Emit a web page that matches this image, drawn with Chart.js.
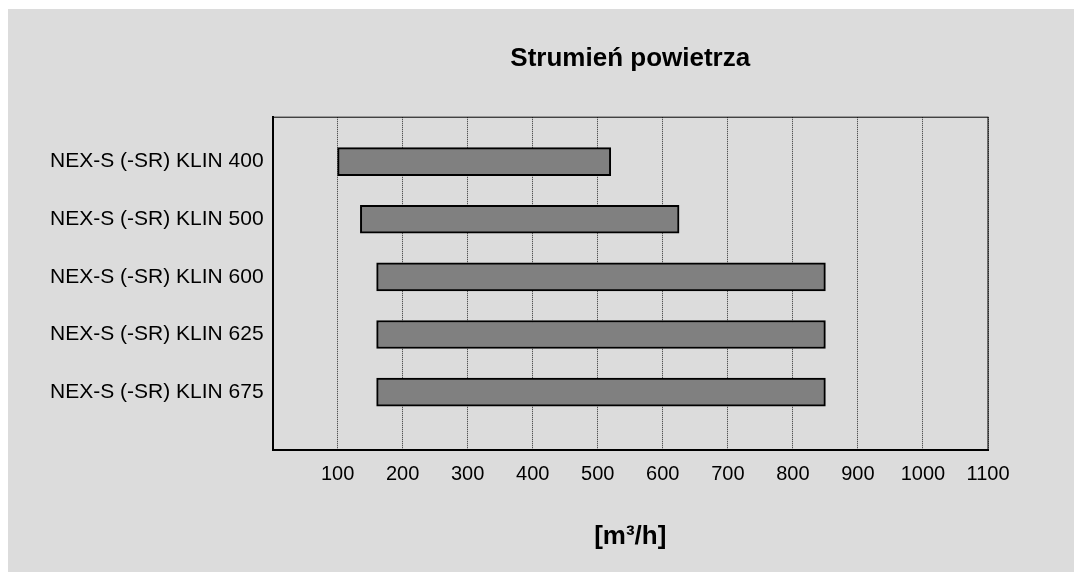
<!DOCTYPE html>
<html>
<head>
<meta charset="utf-8">
<script src="https://cdn.jsdelivr.net/npm/chart.js@4/dist/chart.umd.min.js"></script>
<style>
  body { margin: 9px 0 0 8px; background: #ffffff; }
  #myChart { background: #dcdcdc; display: block; }
</style>
</head>
<body>
<canvas id="myChart" width="1066" height="563"></canvas>
<script>
// chart data
var mylabel = ['NEX-S (-SR) KLIN 400', 'NEX-S (-SR) KLIN 500', 'NEX-S (-SR) KLIN 600', 'NEX-S (-SR) KLIN 625', 'NEX-S (-SR) KLIN 675'];
var flowMin = [100, 135, 160, 160, 160];
var flowMax = [520, 625, 850, 850, 850];
var xTicks = [100, 200, 300, 400, 500, 600, 700, 800, 900, 1000, 1100];

var fontName = "'Liberation Sans', Arial, sans-serif";

// box around the plot area
var frame = {
  id: 'frame',
  beforeDatasetsDraw: function (chart) {
    var a = chart.chartArea, c = chart.ctx;
    c.save();
    c.strokeStyle = '#000';
    c.lineWidth = 1;
    c.strokeRect(a.left, a.top, a.right - a.left, a.bottom - a.top);
    c.restore();
  }
};

var bars = mylabel.map(function (l, i) {
  return { x: [flowMin[i], flowMax[i]], y: i };
});

const ctx = document.getElementById('myChart');
new Chart(ctx, {
  type: 'bar',
  data: {
    datasets: [{
      data: bars,
      backgroundColor: '#808080',
      borderColor: '#000000',
      borderWidth: 2,
      borderSkipped: false,
      barThickness: 28
    }]
  },
  plugins: [frame],
  options: {
    indexAxis: 'y',
    responsive: false,
    animation: false,
    layout: { padding: { left: 33, right: 86, top: 20, bottom: 10 } },
    plugins: {
      legend: { display: false },
      tooltip: { enabled: false },
      title: {
        display: true,
        fullSize: false,
        text: 'Strumień powietrza',
        color: '#000',
        font: { family: fontName, size: 26, weight: 'bold' },
        padding: { top: 14, bottom: 43 }
      }
    },
    scales: {
      x: {
        type: 'linear',
        min: 0,
        max: 1100,
        afterBuildTicks: function (s) {
          s.ticks = [0].concat(xTicks).map(function (v) { return { value: v }; });
        },
        ticks: {
          color: '#000',
          padding: 13,
          maxRotation: 0,
          font: { family: fontName, size: 20 },
          callback: function (v) { return v === 0 ? '' : v; }
        },
        grid: {
          color: '#333',
          lineWidth: 1,
          drawTicks: false
        },
        border: { color: '#000', width: 2, dash: [1, 1] },
        title: {
          display: true,
          text: '[m³/h]',
          color: '#000',
          font: { family: fontName, size: 26, weight: 'bold' },
          padding: { top: 21, bottom: 10 }
        }
      },
      y: {
        type: 'linear',
        reverse: true,
        offset: false,
        min: -0.77,
        max: 5,
        afterBuildTicks: function (s) {
          s.ticks = mylabel.map(function (l, i) { return { value: i }; });
        },
        ticks: {
          color: '#000',
          padding: 9,
          font: { family: fontName, size: 21 },
          callback: function (v) { return mylabel[v]; }
        },
        grid: { display: false, drawTicks: false, offset: false },
        border: { color: '#000', width: 2 }
      }
    }
  }
});
</script>
</body>
</html>
